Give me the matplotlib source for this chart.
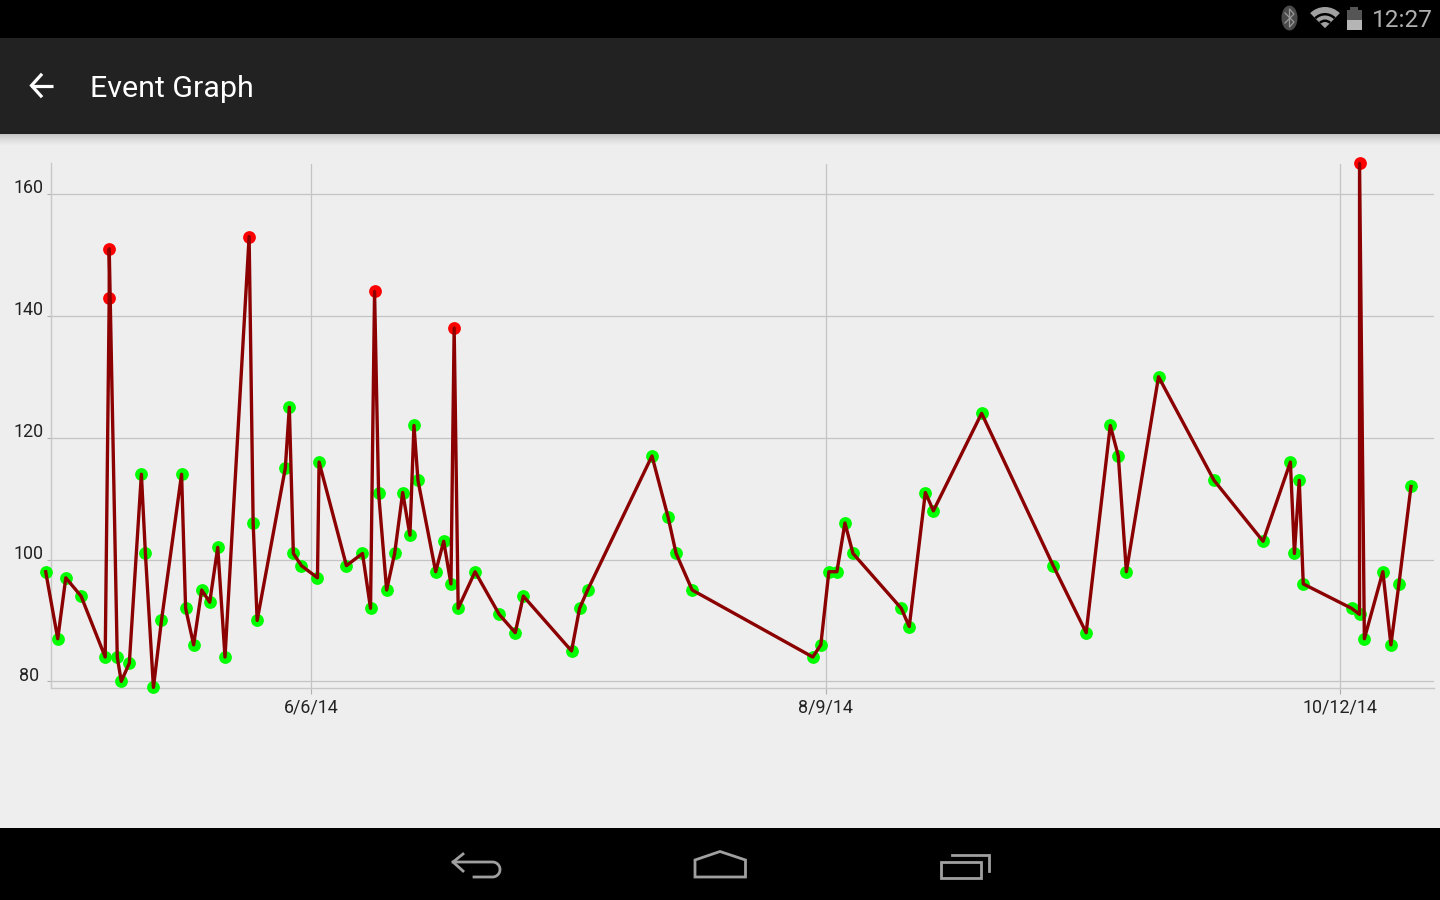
import matplotlib
matplotlib.use("Agg")
import matplotlib.pyplot as plt
import numpy as np
from matplotlib.patches import Rectangle, Polygon, Ellipse, Wedge
from matplotlib.colors import LinearSegmentedColormap
from matplotlib.transforms import Affine2D

plt.rcParams['font.family'] = ['Roboto', 'DejaVu Sans']

# days since 6/6/14
days = [-33.0, -31.5, -30.5, -28.6, -25.6, -25.1, -25.1, -24.1, -23.6, -22.6,
        -21.1, -20.6, -19.6, -18.6, -16.1, -15.6, -14.6, -13.6, -12.6, -11.6,
        -10.7, -7.7, -7.2, -6.7, -3.2, -2.7, -2.2, -1.2, 0.8, 1.0,
        4.4, 6.4, 7.4, 7.9, 8.4, 9.4, 10.4, 11.4, 12.3, 12.8,
        13.3, 15.5, 16.5, 17.4, 17.8, 18.3, 20.4, 23.4, 25.4, 26.4,
        32.4, 33.4, 34.4, 42.4, 44.4, 45.4, 47.4, 62.4, 63.4, 64.4,
        65.4, 66.4, 67.4, 73.4, 74.4, 76.4, 77.4, 83.4, 92.3, 96.4,
        99.4, 100.4, 101.4, 105.4, 112.3, 118.4, 121.8, 122.3, 122.9, 123.4,
        129.4, 130.4, 130.4, 131.0, 133.3, 134.3, 135.3, 136.8]
values = [98, 87, 97, 94, 84, 143, 151, 84, 80, 83,
          114, 101, 79, 90, 114, 92, 86, 95, 93, 102,
          84, 153, 106, 90, 115, 125, 101, 99, 97, 116,
          99, 101, 92, 144, 111, 95, 101, 111, 104, 122,
          113, 98, 103, 96, 138, 92, 98, 91, 88, 94,
          85, 92, 95, 117, 107, 101, 95, 84, 86, 98,
          98, 106, 101, 92, 89, 111, 108, 124, 99, 88,
          122, 117, 98, 130, 113, 103, 116, 101, 113, 96,
          92, 91, 165, 87, 98, 86, 96, 112]
y_ticks = [80, 100, 120, 140, 160]
x_ticks = [0, 64, 128]
x_labels = ['6/6/14', '8/9/14', '10/12/14']
high_limit = 135

W, H = 1440, 900


def main():
    fig = plt.figure(figsize=(14.4, 9), dpi=100, facecolor='#eeeeee')

    # screen chrome, in pixel coordinates
    bg = fig.add_axes([0, 0, 1, 1])
    bg.axis('off')
    bg.add_patch(Rectangle((0, 0), W, 38, color='black', lw=0))
    bg.add_patch(Rectangle((0, 38), W, 96, color='#222222', lw=0))
    bg.add_patch(Rectangle((0, 828), W, 72, color='black', lw=0))
    shadow = np.linspace(0, 1, 12) ** 0.7
    shadow = shadow.reshape(-1, 1)
    bg.imshow(shadow, cmap=LinearSegmentedColormap.from_list('s', ['#c4c4c4', '#eeeeee']),
              extent=(0, W, 146, 134), aspect='auto', zorder=1)
    bg.set_xlim(0, W)
    bg.set_ylim(H, 0)

    bg.text(90.5, 89, 'Event Graph', color='white', fontsize=21.9, va='center', ha='left')
    bg.plot([31, 53], [85.5, 85.5], color='white', lw=2.3, solid_capstyle='butt')
    bg.plot([41, 31.5, 41], [75, 85.5, 96], color='white', lw=2.3, solid_joinstyle='miter')

    # status bar icons
    grey = '#a0a0a0'
    bg.add_patch(Ellipse((1289.5, 18), 16, 25, color='#4a4a4a', lw=0))
    bg.plot([1285, 1294, 1289.5, 1289.5, 1294, 1285], [13, 22, 27, 9, 14, 23], color='#9a9a9a', lw=0.9)
    bg.add_patch(Wedge((1325, 28), 21, 225, 315, color=grey, lw=0))
    bg.add_patch(Wedge((1325, 28), 15, 225, 315, color='black', lw=0))
    bg.add_patch(Wedge((1325, 28), 12.5, 225, 315, color=grey, lw=0))
    bg.add_patch(Wedge((1325, 28), 8.5, 225, 315, color='black', lw=0))
    bg.add_patch(Wedge((1325, 28), 6, 225, 315, color=grey, lw=0))
    bg.add_patch(Rectangle((1350, 7), 8, 3, color='#555555', lw=0))
    bg.add_patch(Rectangle((1347, 10), 15, 10, color='#555555', lw=0))
    bg.add_patch(Rectangle((1347, 20), 15, 10, color='#b5b5b5', lw=0))
    bg.text(1371.5, 20.5, '12:27', color='#b0b0b0', fontsize=17.6, va='center', ha='left')

    # nav bar icons
    nav = '#a0a0a0'
    bg.plot([463, 453, 463], [854, 862, 871], color=nav, lw=2)
    t = np.linspace(-np.pi / 2, np.pi / 2, 20)
    bg.plot(np.r_[453, 492.5 + 7.5 * np.cos(t), 474], np.r_[862, 869.5 + 7.5 * np.sin(t), 877],
            color=nav, lw=2)
    bg.add_patch(Polygon([[695, 877], [695, 860], [720, 851.5], [745.5, 860], [745.5, 877]],
                         fill=False, ec=nav, lw=2))
    bg.add_patch(Rectangle((941, 862), 40, 15.5, fill=False, ec=nav, lw=2))
    bg.plot([952, 989, 989], [854.5, 854.5, 871], color=nav, lw=2, solid_joinstyle='miter')

    # chart area: 51..1434 px wide, 163.5..687.5 px high
    ax = fig.add_axes([51 / W, 1 - 687.5 / H, (1434 - 51) / W, (687.5 - 163.5) / H])
    ax.patch.set_alpha(0)
    ax.set_xlim(-32.34, 139.66)
    ax.set_ylim(79, 165)
    for side in ['top', 'right']:
        ax.spines[side].set_visible(False)
    for side in ['left', 'bottom']:
        ax.spines[side].set_color('#c8c8c8')
        ax.spines[side].set_linewidth(1)

    ax.set_xticks(x_ticks)
    ax.set_xticklabels(x_labels)
    ax.set_yticks(y_ticks)
    ax.tick_params(axis='x', length=4, width=0.8, color='#b0b0b0', labelsize=12.9, labelcolor='#222222', pad=4.2)
    ax.tick_params(axis='y', length=3, width=0.8, color='#b0b0b0', labelsize=12.9, labelcolor='#222222', pad=13)
    # y labels are centred on a common x and sit above their gridline
    for lab in ax.get_yticklabels():
        lab.set_horizontalalignment('center')
        lab.set_verticalalignment('bottom')
        lab.set_transform(lab.get_transform() + Affine2D().translate(0, -3.2))
    ax.grid(True, color='#c4c4c4', lw=0.9)
    ax.set_axisbelow(True)

    days_arr = np.array(days)
    vals_arr = np.array(values)
    high = vals_arr > high_limit
    ax.plot(days_arr[~high], vals_arr[~high], 'o', color='#00ff00', ms=9.2, mew=0, clip_on=False, zorder=3)
    ax.plot(days_arr[high], vals_arr[high], 'o', color='#ff0000', ms=9.2, mew=0, clip_on=False, zorder=3)
    ax.plot(days, values, color='#8b0000', lw=2.4, clip_on=False, zorder=4)

    fig.savefig('out.png', dpi=100, facecolor=fig.get_facecolor())


if __name__ == "__main__":
    main()
